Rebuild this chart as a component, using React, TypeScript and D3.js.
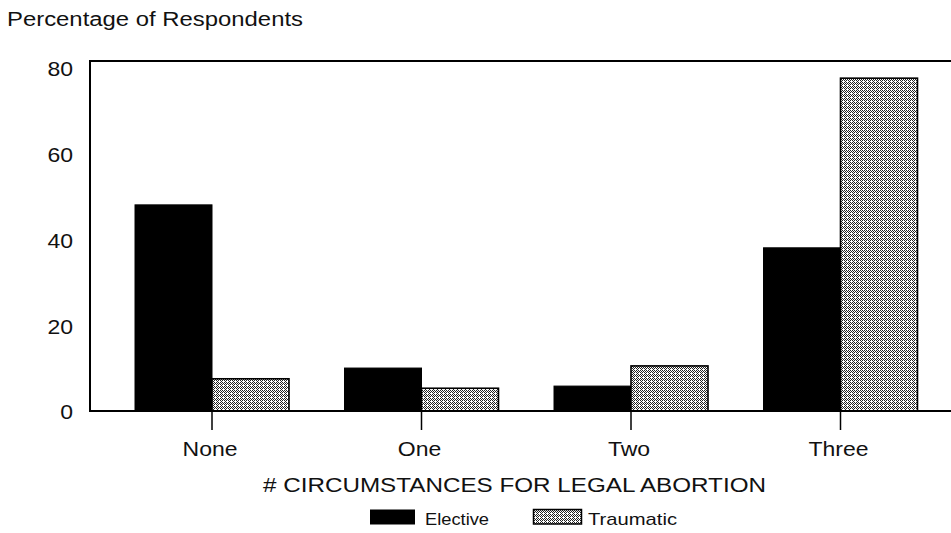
import React from "react";
import * as d3 from "d3";

const categories = ["None", "One", "Two", "Three"];
const seriesNames = ["Elective", "Traumatic"];
const electiveValues = [48, 10, 5.8, 38];
const traumaticValues = [7.5, 5.3, 10.5, 77.5];
const yTickValues = [0, 20, 40, 60, 80];
const titleText = "Percentage of Respondents";
const xAxisTitle = "# CIRCUMSTANCES FOR LEGAL ABORTION";

const W = 951;
const H = 533;
const FONT = "'Liberation Sans', Arial, Helvetica, sans-serif";

export default function App() {
  const left = 90;
  const right = 951;
  const top = 61;
  const bottom = 411;

  const y = d3.scaleLinear().domain([0, 81.5]).range([bottom, top]);
  const x0 = d3
    .scaleBand<string>()
    .domain(categories)
    .range([107.25, 945.25])
    .paddingInner(0.265)
    .paddingOuter(0.1325);
  const x1 = d3
    .scaleBand<string>()
    .domain(seriesNames)
    .range([0, x0.bandwidth()])
    .padding(0);

  const data = categories.map((c, i) => ({
    cat: c,
    vals: [
      { s: seriesNames[0], v: electiveValues[i] },
      { s: seriesNames[1], v: traumaticValues[i] },
    ],
  }));

  const sx = 1.15;

  return (
    <svg
      width={W}
      height={H}
      style={{ position: "absolute", left: 0, top: 0, background: "#fff" }}
      fontFamily={FONT}
    >
      <defs>
        <pattern id="dither" width="4" height="4" patternUnits="userSpaceOnUse">
          <rect width="4" height="4" fill="#fff" />
          {[
            [0, 0],
            [1, 1],
            [2, 2],
            [3, 3],
            [2, 0],
            [0, 2],
            [1, 3],
          ].map(([px, py], k) => (
            <rect key={k} x={px} y={py} width={1} height={1} fill="#222" />
          ))}
        </pattern>
      </defs>
      <rect width={W} height={H} fill="#fff" />

      {/* title */}
      <text
        x={7}
        y={25.5}
        fontSize={20}
        textLength={296}
        lengthAdjust="spacingAndGlyphs"
        fill="#111"
      >
        {titleText}
      </text>

      {/* bars */}
      {data.map((d) =>
        d.vals.map((b) => {
          const bx = (x0(d.cat) as number) + (x1(b.s) as number);
          const by = y(b.v);
          const bh = y(0) - by;
          const isE = b.s === seriesNames[0];
          return (
            <rect
              key={d.cat + b.s}
              x={bx}
              y={by}
              width={x1.bandwidth()}
              height={bh}
              fill={isE ? "#000" : "url(#dither)"}
              stroke="#000"
              strokeWidth={isE ? 1 : 1.6}
            />
          );
        })
      )}

      {/* frame */}
      <path
        d={`M${right},${top}H${left}V${bottom}H${right}`}
        fill="none"
        stroke="#000"
        strokeWidth={2}
      />

      {/* category ticks */}
      {categories.map((c) => {
        const cx = (x0(c) as number) + x0.bandwidth() / 2;
        return (
          <g key={c}>
            <line x1={cx} x2={cx} y1={bottom} y2={bottom + 19} stroke="#000" strokeWidth={1.5} />
            <text
              transform={`translate(${cx - 2},${456}) scale(${sx},1)`}
              textAnchor="middle"
              fontSize={20}
              fill="#111"
            >
              {c}
            </text>
          </g>
        );
      })}

      {/* y ticks */}
      {yTickValues.map((t) => (
        <text
          key={t}
          transform={`translate(73,${y(t) + 1.5}) scale(${sx},1)`}
          textAnchor="end"
          dominantBaseline="central"
          fontSize={20}
          fill="#111"
        >
          {t}
        </text>
      ))}

      {/* x axis title */}
      <text
        x={263}
        y={492}
        fontSize={19.5}
        textLength={503}
        lengthAdjust="spacingAndGlyphs"
        fill="#111"
      >
        {xAxisTitle}
      </text>

      {/* legend */}
      <rect x={370} y={509.5} width={45} height={15} fill="#000" />
      <text x={425} y={525} fontSize={17} textLength={64} lengthAdjust="spacingAndGlyphs" fill="#111">
        {seriesNames[0]}
      </text>
      <rect x={533.5} y={509.5} width={48} height={14.5} fill="url(#dither)" stroke="#000" strokeWidth={1.5} />
      <text x={588} y={525} fontSize={17} textLength={89} lengthAdjust="spacingAndGlyphs" fill="#111">
        {seriesNames[1]}
      </text>
    </svg>
  );
}
